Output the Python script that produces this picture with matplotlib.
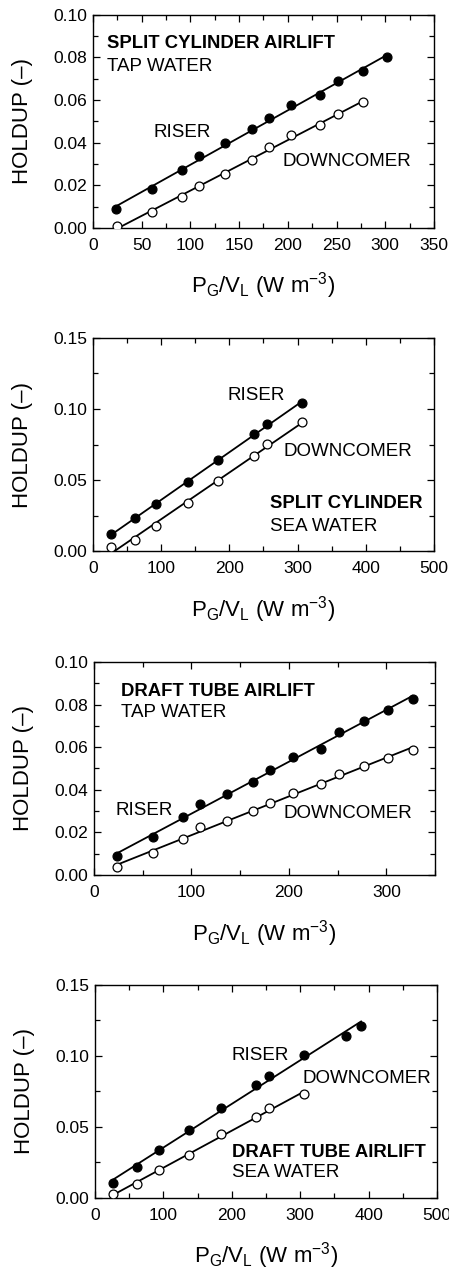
import numpy as np
import matplotlib
matplotlib.use("Agg")
import matplotlib.pyplot as plt
from matplotlib.ticker import MultipleLocator, FormatStrFormatter

plt.rcParams['font.family'] = ['Liberation Sans', 'DejaVu Sans']
plt.rcParams['mathtext.default'] = 'regular'

# ---- data ----
# split cylinder, tap water
sc_tap_x_r = [24, 61, 91, 109, 136, 163, 181, 203, 233, 251, 277, 302]
sc_tap_riser = [0.0088, 0.0182, 0.0270, 0.0337, 0.0400, 0.0466, 0.0514, 0.0577, 0.0622, 0.0688, 0.0737, 0.0801]
sc_tap_x_d = [25, 61, 91, 109, 136, 163, 181, 203, 233, 251, 277]
sc_tap_down = [0.0010, 0.0074, 0.0143, 0.0197, 0.0255, 0.0321, 0.0378, 0.0436, 0.0483, 0.0536, 0.0589]

# split cylinder, sea water
sc_sea_x = [26, 62, 93, 139, 184, 236, 255, 307]
sc_sea_riser = [0.0117, 0.0230, 0.0333, 0.0486, 0.0640, 0.0822, 0.0897, 0.1042]
sc_sea_down = [0.0028, 0.0077, 0.0178, 0.0336, 0.0493, 0.0669, 0.0754, 0.0908]

# draft tube, tap water
dt_tap_x = [24, 61, 91, 109, 136, 163, 181, 204, 233, 251, 277, 302, 327]
dt_tap_riser = [0.0088, 0.0179, 0.0271, 0.0331, 0.0381, 0.0437, 0.0494, 0.0555, 0.0592, 0.0671, 0.0723, 0.0774, 0.0828]
dt_tap_down = [0.0038, 0.0105, 0.0171, 0.0223, 0.0252, 0.0301, 0.0337, 0.0387, 0.0426, 0.0472, 0.0513, 0.0547, 0.0586]

# draft tube, sea water
dt_sea_x_r = [26, 62, 93, 138, 184, 236, 255, 305, 367, 389]
dt_sea_riser = [0.0105, 0.0216, 0.0335, 0.0480, 0.0635, 0.0795, 0.0862, 0.1010, 0.1140, 0.1214]
dt_sea_x_d = [26, 62, 93, 138, 184, 236, 255, 305]
dt_sea_down = [0.0028, 0.0098, 0.0197, 0.0302, 0.0450, 0.0567, 0.0635, 0.0729]

panels = [
    dict(rect=[0.2071, 0.8208, 0.7595, 0.1675], xr=sc_tap_x_r, yr=sc_tap_riser, xd=sc_tap_x_d, yd=sc_tap_down,
         xlim=350, xmaj=50, xmin=25, ylim=0.10, ymaj=0.02, ymin=0.01,
         title=('SPLIT CYLINDER AIRLIFT', 'TAP WATER', 0.041, 0.867, 0.759),
         riser=(0.177, 0.449), down=(0.556, 0.311)),
    dict(rect=[0.2071, 0.5668, 0.7595, 0.1675], xr=sc_sea_x, yr=sc_sea_riser, xd=sc_sea_x, yd=sc_sea_down,
         xlim=500, xmaj=100, xmin=50, ylim=0.15, ymaj=0.05, ymin=0.025,
         title=('SPLIT CYLINDER', 'SEA WATER', 0.519, 0.224, 0.117),
         riser=(0.395, 0.732), down=(0.558, 0.469)),
    dict(rect=[0.2094, 0.3121, 0.7595, 0.1675], xr=dt_tap_x, yr=dt_tap_riser, xd=dt_tap_x, yd=dt_tap_down,
         xlim=350, xmaj=100, xmin=50, ylim=0.10, ymaj=0.02, ymin=0.01,
         title=('DRAFT TUBE AIRLIFT', 'TAP WATER', 0.078, 0.861, 0.764),
         riser=(0.062, 0.305), down=(0.555, 0.29)),
    dict(rect=[0.2116, 0.0582, 0.7617, 0.1675], xr=dt_sea_x_r, yr=dt_sea_riser, xd=dt_sea_x_d, yd=dt_sea_down,
         xlim=500, xmaj=100, xmin=50, ylim=0.15, ymaj=0.05, ymin=0.025,
         title=('DRAFT TUBE AIRLIFT', 'SEA WATER', 0.401, 0.215, 0.119),
         riser=(0.398, 0.667), down=(0.607, 0.562)),
]

fig = plt.figure(figsize=(4.49, 12.72), dpi=100, facecolor='w')


def fit_line(ax, x, y):
    x = np.asarray(x, float)
    k, b = np.polyfit(x, y, 1)
    x0 = max(x[0], -b / k)
    xs = np.array([x0, x[-1]])
    ax.plot(xs, k * xs + b, color='k', lw=1.3, zorder=2)


for p in panels:
    ax = fig.add_axes(p['rect'])
    fit_line(ax, p['xr'], p['yr'])
    fit_line(ax, p['xd'], p['yd'])
    ax.plot(p['xr'], p['yr'], 'o', ms=6.4, mfc='k', mec='k', mew=0.9, zorder=3)
    ax.plot(p['xd'], p['yd'], 'o', ms=6.4, mfc='w', mec='k', mew=0.9, zorder=3)

    ax.set_xlim(0, p['xlim'])
    ax.set_ylim(0, p['ylim'])
    ax.xaxis.set_major_locator(MultipleLocator(p['xmaj']))
    ax.xaxis.set_minor_locator(MultipleLocator(p['xmin']))
    ax.yaxis.set_major_locator(MultipleLocator(p['ymaj']))
    ax.yaxis.set_minor_locator(MultipleLocator(p['ymin']))
    ax.yaxis.set_major_formatter(FormatStrFormatter('%.2f'))
    ax.tick_params(which='both', direction='in', top=True, right=True, width=0.9)
    ax.tick_params(which='major', length=5)
    ax.tick_params(which='minor', length=3.5)
    ax.tick_params(axis='x', which='major', labelsize=12.5, pad=7)
    ax.tick_params(axis='y', which='major', labelsize=12.5, pad=4)
    for s in ax.spines.values():
        s.set_linewidth(1.0)

    ax.set_ylabel('HOLDUP (–)', fontsize=16)
    ax.yaxis.set_label_coords(-0.175, 0.5)
    ax.set_xlabel(r'P$_{G}$/V$_{L}$ (W m$^{-3}$)', fontsize=16)
    ax.xaxis.set_label_coords(0.5, -0.2)

    t1, t2, tx, ty1, ty2 = p['title']
    ax.text(tx, ty1, t1, transform=ax.transAxes, fontsize=13.3, fontweight='bold', va='center', ha='left')
    ax.text(tx, ty2, t2, transform=ax.transAxes, fontsize=13.5, va='center', ha='left')
    ax.text(p['riser'][0], p['riser'][1], 'RISER', transform=ax.transAxes, fontsize=13.5, va='center', ha='left')
    ax.text(p['down'][0], p['down'][1], 'DOWNCOMER', transform=ax.transAxes, fontsize=13.5, va='center', ha='left')

fig.savefig('out.png', dpi=100)
